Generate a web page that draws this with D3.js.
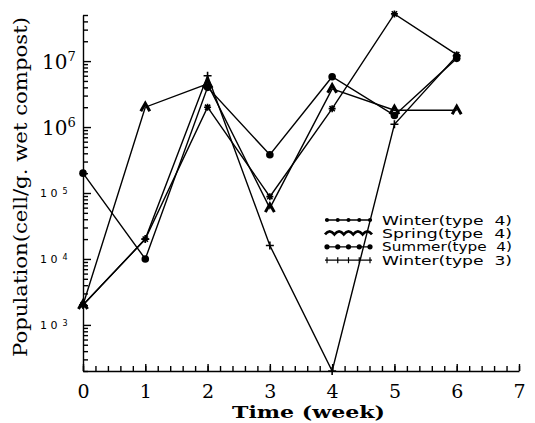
<!DOCTYPE html>
<html>
<head>
<meta charset="utf-8">
<script src="https://cdnjs.cloudflare.com/ajax/libs/d3/7.8.5/d3.min.js"></script>
<style>
  body { margin: 0; background: #fff; }
  svg { display: block; }
</style>
</head>
<body>
<svg id="chart" width="535" height="423"></svg>
<script>
// data (cells / g wet compost)
var weeks = [0, 1, 2, 3, 4, 5, 6];
var winter4 = [2e3, 2e4, 2e6, 8.8e4, 1.9e6, 5.2e7, 1.25e7];
var spring4 = [2e3, 2e6, 4.5e6, 5.9e4, 3.8e6, 1.8e6, 1.8e6];
var summer4 = [2e5, 1e4, 4e6, 3.8e5, 5.8e6, 1.5e6, 1.1e7];
var winter3 = [2e3, 2e4, 6e6, 1.6e4, 200, 1.1e6, 1.2e7];
var seriesNames = ["Winter(type  4)", "Spring(type  4)", "Summer(type  4)", "Winter(type  3)"];
var seriesKeys = ["star", "wave", "dot", "plus"];
var decades = [1e3, 1e4, 1e5, 1e6, 1e7];
var decadeExp = ["3", "4", "5", "6", "7"];
var xTicks = [0, 1, 2, 3, 4, 5, 6, 7];

var allSeries = [winter4, spring4, summer4, winter3];

var svg = d3.select("#chart");
var plotL = 83, plotR = 519, plotT = 15, plotB = 371;

var x = d3.scaleLinear().domain([0, 7]).range([plotL, plotR]);
var y = d3.scaleLog().domain([200, 5e7]).range([plotB, plotT]);

// x axis: minor ticks, then major with labels
var minorX = d3.range(0, 7.001, 0.2);
svg.append("g")
	.attr("class", "ax")
	.attr("transform", "translate(0," + plotB + ")")
	.call(d3.axisBottom(x).tickValues(minorX).tickSize(-5).tickFormat(""))
	.call(function(g){ g.select(".domain").remove(); });

var xg = svg.append("g")
	.attr("class", "ax")
	.attr("transform", "translate(0," + plotB + ")")
	.call(d3.axisBottom(x).tickValues(xTicks).tickSizeInner(-7).tickSizeOuter(0).tickPadding(14)
		.tickFormat(d3.format("d")));
xg.selectAll("text")
	.attr("font-family", "DejaVu Serif")
	.attr("font-size", 19)
	.attr("fill", "#000");

// y axis: log minor ticks + major ticks
var minorY = [];
for (var e = 2; e <= 7; e++) {
	for (var m = 2; m <= 9; m++) {
		var v = m * Math.pow(10, e);
		if (v >= 200 && v <= 5e7) minorY.push(v);
	}
}
svg.append("g")
	.attr("class", "ax")
	.attr("transform", "translate(" + plotL + ",0)")
	.call(d3.axisLeft(y).tickValues(minorY).tickSize(-5).tickFormat(""))
	.call(function(g){ g.select(".domain").remove(); });
svg.append("g")
	.attr("class", "ax")
	.attr("transform", "translate(" + plotL + ",0)")
	.call(d3.axisLeft(y).tickValues(decades).tickSizeInner(-8).tickSizeOuter(0).tickFormat(""));

svg.selectAll(".ax line, .ax path").attr("stroke", "#000").attr("stroke-width", 1.4);

// y tick labels: small sans for 10^3..10^5, big serif for 10^6, 10^7
decades.forEach(function(d, i){
	var big = d >= 1e6;
	var t = svg.append("text")
		.attr("x", big ? 42 : 40)
		.attr("y", y(d) + (big ? 8 : 4))
		.attr("font-family", big ? "DejaVu Serif" : "DejaVu Sans")
		.attr("font-size", big ? 20 : 11)
		.attr("fill", "#000");
	t.append("tspan").text(big ? "10" : "1 0");
	t.append("tspan")
		.attr("dx", big ? 0 : 5)
		.attr("dy", big ? -8 : -3)
		.attr("font-size", big ? 13 : 8)
		.text(decadeExp[i]);
});

// axis titles
svg.append("text")
	.attr("transform", "translate(27,357) rotate(-90)")
	.attr("font-family", "DejaVu Serif")
	.attr("font-size", 19)
	.attr("textLength", 340)
	.attr("lengthAdjust", "spacingAndGlyphs")
	.text("Population(cell/g. wet compost)");

svg.append("text")
	.attr("x", 232)
	.attr("y", 418)
	.attr("font-family", "DejaVu Serif")
	.attr("font-weight", "bold")
	.attr("font-size", 17)
	.attr("textLength", 153)
	.attr("lengthAdjust", "spacingAndGlyphs")
	.text("Time (week)");

// markers
function drawMarker(g, kind, cx, cy) {
	if (kind === "star") {
		var s = 3.5;
		g.append("path")
			.attr("d", "M" + (cx - s) + "," + cy + "H" + (cx + s) +
				"M" + cx + "," + (cy - s) + "V" + (cy + s) +
				"M" + (cx - s * 0.75) + "," + (cy - s * 0.75) + "L" + (cx + s * 0.75) + "," + (cy + s * 0.75) +
				"M" + (cx - s * 0.75) + "," + (cy + s * 0.75) + "L" + (cx + s * 0.75) + "," + (cy - s * 0.75))
			.attr("stroke", "#000").attr("stroke-width", 1.6);
	} else if (kind === "wave") {
		g.append("path")
			.attr("d", "M" + (cx - 4.5) + "," + (cy + 4) + "L" + cx + "," + (cy - 4) + "L" + (cx + 4.5) + "," + (cy + 4))
			.attr("fill", "none").attr("stroke", "#000").attr("stroke-width", 3);
	} else if (kind === "dot") {
		g.append("circle")
			.attr("cx", cx).attr("cy", cy).attr("r", 3.8)
			.attr("fill", "#000");
	} else {
		var p = 4;
		g.append("path")
			.attr("d", "M" + (cx - p) + "," + cy + "H" + (cx + p) + "M" + cx + "," + (cy - p) + "V" + (cy + p))
			.attr("stroke", "#000").attr("stroke-width", 1.6);
	}
}

var line = d3.line()
	.x(function(d, i){ return x(weeks[i]); })
	.y(function(d){ return y(d); });

allSeries.forEach(function(vals, k){
	var g = svg.append("g");
	g.append("path")
		.attr("d", line(vals))
		.attr("fill", "none")
		.attr("stroke", "#000")
		.attr("stroke-width", 1.4);
	vals.forEach(function(v, i){
		drawMarker(g, seriesKeys[k], x(weeks[i]), y(v));
	});
});

// legend
var legX0 = 325, legX1 = 372, legY0 = 220, legStep = 13.4;
seriesNames.forEach(function(name, k){
	var ly = legY0 + k * legStep;
	var g = svg.append("g");
	if (seriesKeys[k] === "wave") {
		var d = "M" + legX0 + "," + (ly + 1);
		for (var i = 0; i < 5; i++) {
			var xa = legX0 + i * (legX1 - legX0) / 5;
			var xb = xa + (legX1 - legX0) / 10;
			var xc = xa + (legX1 - legX0) / 5;
			d += "Q" + xb + "," + (ly - 5) + " " + xc + "," + (ly + 1);
		}
		g.append("path").attr("d", d).attr("fill", "none")
			.attr("stroke", "#000").attr("stroke-width", 2.6);
	} else {
		g.append("line")
			.attr("x1", legX0).attr("x2", legX1)
			.attr("y1", ly).attr("y2", ly)
			.attr("stroke", "#000").attr("stroke-width", 1.3);
		for (var j = 0; j < 5; j++) {
			var mx = legX0 + 2 + j * (legX1 - legX0 - 4) / 4;
			if (seriesKeys[k] === "dot") {
				g.append("circle").attr("cx", mx).attr("cy", ly).attr("r", 2.6).attr("fill", "#000");
			} else if (seriesKeys[k] === "star") {
				g.append("circle").attr("cx", mx).attr("cy", ly).attr("r", 2).attr("fill", "#000");
			} else {
				g.append("line").attr("x1", mx).attr("x2", mx).attr("y1", ly - 3).attr("y2", ly + 3)
					.attr("stroke", "#000").attr("stroke-width", 1.2);
			}
		}
	}
	svg.append("text")
		.attr("x", 382)
		.attr("y", ly + 4.5)
		.attr("font-family", "DejaVu Sans")
		.attr("font-size", 12)
		.attr("textLength", 130)
		.attr("lengthAdjust", "spacingAndGlyphs")
		.style("white-space", "pre")
		.text(name);
});
</script>
</body>
</html>
